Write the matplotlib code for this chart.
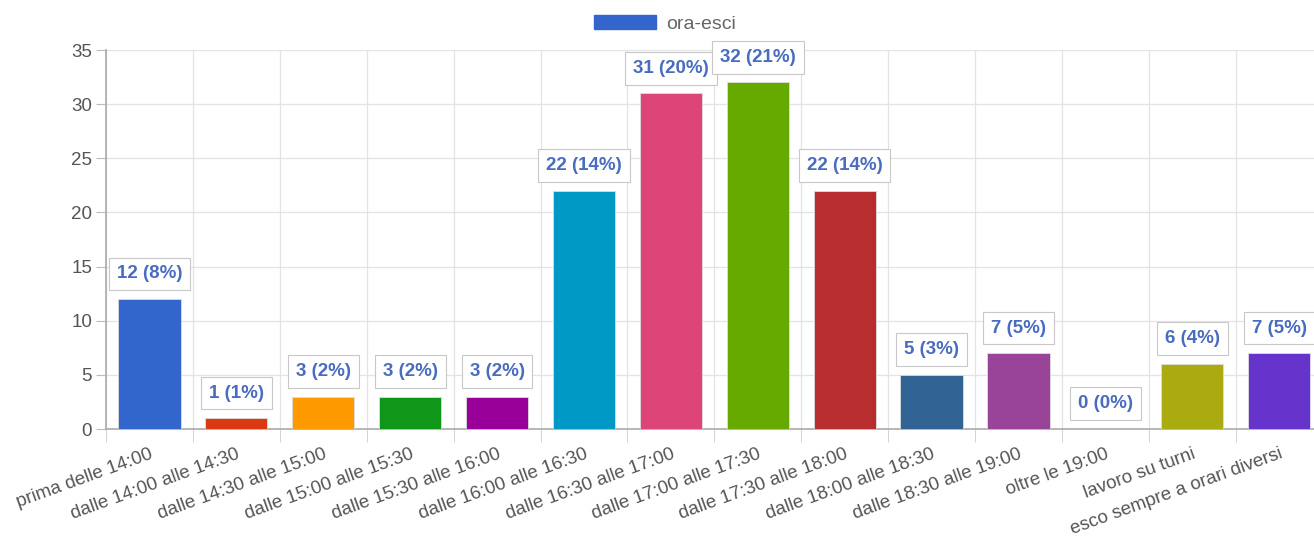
import matplotlib.pyplot as plt
import matplotlib.patches as mpatches
import numpy as np

# dati
categorie = ['prima delle 14:00', 'dalle 14:00 alle 14:30', 'dalle 14:30 alle 15:00',
             'dalle 15:00 alle 15:30', 'dalle 15:30 alle 16:00', 'dalle 16:00 alle 16:30',
             'dalle 16:30 alle 17:00', 'dalle 17:00 alle 17:30', 'dalle 17:30 alle 18:00',
             'dalle 18:00 alle 18:30', 'dalle 18:30 alle 19:00', 'oltre le 19:00',
             'lavoro su turni', 'esco sempre a orari diversi']
valori = [12, 1, 3, 3, 3, 22, 31, 32, 22, 5, 7, 0, 6, 7]
percentuali = [8, 1, 2, 2, 2, 14, 20, 21, 14, 3, 5, 0, 4, 5]
colori = ['#3366cc', '#dc3912', '#ff9900', '#109618', '#990099', '#0099c6', '#dd4477',
          '#66aa00', '#b82e2e', '#316395', '#994499', '#22aa99', '#aaaa11', '#6633cc']

plt.rcParams['font.family'] = ['Liberation Sans', 'DejaVu Sans']

fig = plt.figure(figsize=(13.14, 5.4), dpi=100)
ax = fig.add_axes([106 / 1314, 111 / 540, 1216.6 / 1314, 379 / 540])

x = np.arange(len(categorie))
ax.bar(x, valori, width=0.715, color=colori, edgecolor='#dddddd', linewidth=0.6, zorder=3)

# etichette sopra le barre
for xi, v, p in zip(x, valori, percentuali):
    ax.annotate(f'{v} ({p}%)', (xi, v), xytext=(0, 12), textcoords='offset points',
                ha='center', va='bottom', fontsize=13.5, fontweight='bold', color='#4a6cc0',
                bbox=dict(boxstyle='square,pad=0.42', fc='white', ec='#c8c8c8', lw=0.8),
                annotation_clip=False, zorder=5)

ax.set_xlim(-0.5, len(categorie) - 0.5)
ax.set_ylim(0, 35)
ax.set_yticks(range(0, 36, 5))
ax.set_xticks(x)
ax.set_xticklabels(categorie, rotation=20, ha='right', rotation_mode='anchor')
ax.set_xticks(np.arange(-0.5, len(categorie), 1), minor=True)
ax.tick_params(axis='x', which='major', length=0, pad=12, labelsize=13.5, labelcolor='#555555')
ax.tick_params(axis='x', which='minor', length=9, color='#cccccc')
ax.tick_params(axis='y', length=7, color='#bbbbbb', labelsize=13.5, labelcolor='#555555', pad=3)

ax.grid(axis='y', which='major', color='#e3e3e3', lw=0.9, zorder=0)
ax.grid(axis='x', which='minor', color='#e3e3e3', lw=0.9, zorder=0)
for s in ['top', 'right']:
    ax.spines[s].set_visible(False)
ax.spines['left'].set_color('#aaaaaa')
ax.spines['bottom'].set_color('#aaaaaa')
ax.spines['left'].set_linewidth(1.2)
ax.spines['bottom'].set_linewidth(1.2)

handle = mpatches.Patch(color='#3366cc', label='ora-esci')
fig.legend(handles=[handle], loc='center', bbox_to_anchor=(665 / 1314, 1 - 24 / 540),
           frameon=False, fontsize=14, handlelength=3.2, handleheight=0.75,
           labelcolor='#666666', handletextpad=0.5)

fig.savefig('out.png', dpi=100)
